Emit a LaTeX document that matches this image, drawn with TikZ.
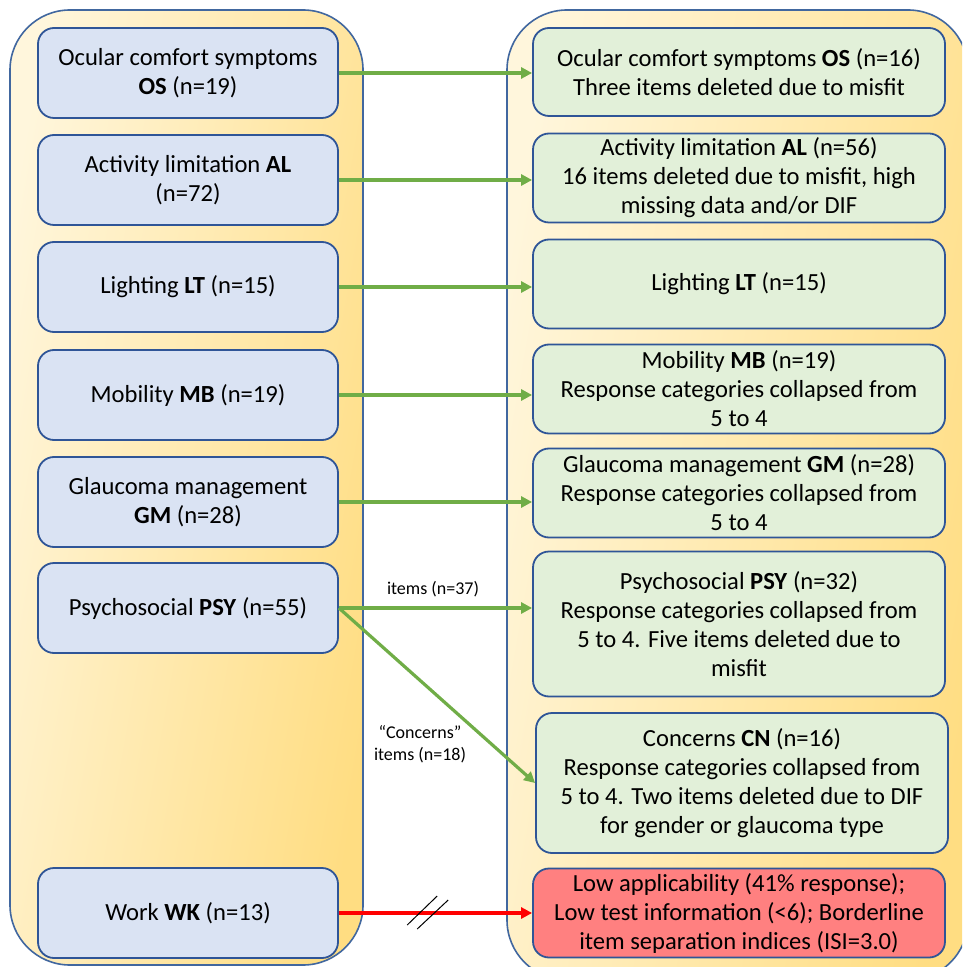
\documentclass[tikz,border=0pt]{standalone}
\usepackage{fontspec}
\setmainfont{Carlito}
\usetikzlibrary{arrows.meta}
\definecolor{boxedge}{HTML}{2F5597}
\definecolor{paneedge}{HTML}{41679F}
\definecolor{oldfill}{HTML}{DAE3F3}
\definecolor{newfill}{HTML}{E2F0D9}
\definecolor{dropfill}{HTML}{FF8080}
\definecolor{keepline}{HTML}{70AD47}
\definecolor{panelite}{HTML}{FFF6DC}
\definecolor{panegold}{HTML}{FFDD82}
\begin{document}
\begin{tikzpicture}[x=0.5pt,y=-0.5pt,every node/.style={font=\fontsize{12.3}{14.5}\selectfont},
  pane/.style={draw=paneedge,line width=0.8pt,rounded corners=30pt,left color=panelite,right color=panegold,shading angle=80},
  oldbox/.style={draw=boxedge,line width=0.9pt,fill=oldfill,rounded corners=8pt,minimum width=150pt,minimum height=45pt,align=center,inner sep=0pt},
  newbox/.style={draw=boxedge,line width=0.9pt,fill=newfill,rounded corners=8pt,minimum width=206pt,align=center,inner sep=0pt},
  keep/.style={draw=keepline,line width=1.6pt,-{Triangle[length=5.5pt,width=5.5pt]}},
  drop/.style={draw=red,line width=2pt,-{Triangle[length=5.5pt,width=5.5pt]}},
  note/.style={font=\fontsize{9}{11}\selectfont,align=center}]
\clip (0,0) rectangle (962,967);
% two panels
\path[pane] (10,10) rectangle (363,965);
\path[pane] (507,10) rectangle (968,980);
% original domains
\foreach \nm/\yc/\txt in {os/73/{Ocular comfort symptoms\\\textbf{OS} (n=19)},
  al/180/{Activity limitation \textbf{AL}\\(n=72)},
  lt/287/{Lighting \textbf{LT} (n=15)},
  mb/395/{Mobility \textbf{MB} (n=19)},
  gm/502/{Glaucoma management\\\textbf{GM} (n=28)},
  psy/608/{Psychosocial \textbf{PSY} (n=55)},
  wk/913/{Work \textbf{WK} (n=13)}} {
  \node[oldbox] (\nm) at (188,\yc) {\txt};
}
% revised domains
\foreach \nm/\xc/\yc/\hh/\txt in {ros/739/72/88/{Ocular comfort symptoms \textbf{OS} (n=16)\\Three items deleted due to misfit},
  ral/739/178/89/{Activity limitation \textbf{AL} (n=56)\\16 items deleted due to misfit, high\\missing data and/or DIF},
  rlt/739/284/89/{Lighting \textbf{LT} (n=15)},
  rmb/739/389/89/{Mobility \textbf{MB} (n=19)\\Response categories collapsed from\\5 to 4},
  rgm/739/493/89/{Glaucoma management \textbf{GM} (n=28)\\Response categories collapsed from\\5 to 4},
  rpsy/739/624/145/{Psychosocial \textbf{PSY} (n=32)\\Response categories collapsed from\\5 to 4. Five items deleted due to\\misfit},
  cn/742/783/140/{Concerns \textbf{CN} (n=16)\\Response categories collapsed from\\5 to 4. Two items deleted due to DIF\\for gender or glaucoma type}} {
  \node[newbox,minimum height=\hh*0.5pt] (\nm) at (\xc,\yc) {\txt};
}
\node[newbox,fill=dropfill,minimum height=44.5pt] (wkout) at (739,913) {Low applicability (41\% response);\\Low test information (<6); Borderline\\item separation indices (ISI=3.0)};
% connectors
\foreach \a/\b in {os/ros,al/ral,lt/rlt,mb/rmb,gm/rgm,psy/rpsy}
  \draw[keep] (\a.east) -- (\a.east -| \b.west);
\draw[keep] (psy.east) -- (cn.west);
\draw[drop] (wk.east) -- (wk.east -| wkout.west);
\path (wk.east) -- (wkout.west) coordinate[pos=0.457] (brk);
\draw[line width=0.5pt] (brk) ++(-20,12) -- ++(30,-29);
\draw[line width=0.5pt] (brk) ++(-10,16) -- ++(31,-29);
\node[note] (lab37) at (433,589) {items (n=37)};
\node[note] (lab18) at (420,744) {``Concerns''\\items (n=18)};
\end{tikzpicture}
\end{document}
